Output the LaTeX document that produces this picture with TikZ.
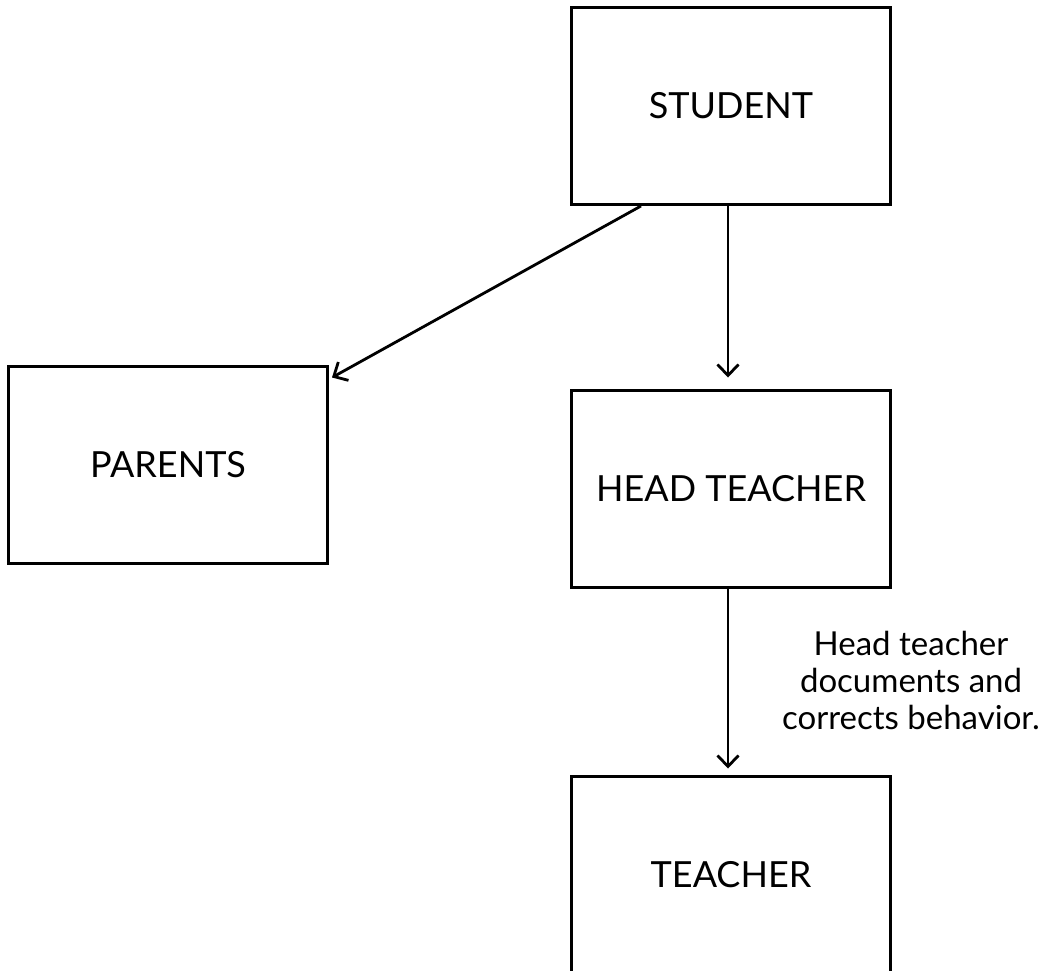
\documentclass[tikz,border=0pt]{standalone}
\usepackage{fontspec}
\setmainfont{Lato}
\usetikzlibrary{arrows.meta,calc}
\tikzset{box/.style={draw,line width=3pt,minimum width=319pt,minimum height=197pt,inner sep=0pt,font=\fontsize{36}{43}\selectfont}}
\tikzset{link/.style={line width=2.8pt,-{Straight Barb[length=11pt,width=21pt,line width=2.8pt]}}}
\newcommand{\notefont}{\fontsize{33}{37}\selectfont}

\begin{document}
\begin{tikzpicture}[x=1pt,y=1pt]
	\clip (0,0) rectangle (1053,-970); %frame
	\fill[white] (0,0) rectangle (1053,-970);

	\node[box] (student) at (731,-106) {STUDENT};
	\node[box] (parents) at (168,-464.5) {PARENTS};
	\node[box] (head) at (731,-488.5) {HEAD TEACHER};
	\node[box] (teacher) at (731,-874.5) {TEACHER};

	\coordinate (pstart) at ($(student.south west)+(71,0)$);
	\coordinate (pend) at ($(parents.north east)+(3,-13)$);

	\draw[link] (pstart) -- (pend);
	\draw[link,shorten >=11pt] ($(student.south)+(-3,0)$) -- ($(head.north)+(-3,0)$);
	\draw[link,shorten >=6pt] ($(head.south)+(-3,0)$) -- ($(teacher.north)+(-3,0)$);

	\node[font=\notefont,align=center,inner sep=0pt] (note) at (911,-680) {Head teacher\\documents and\\corrects behavior.};
\end{tikzpicture}
\end{document}
